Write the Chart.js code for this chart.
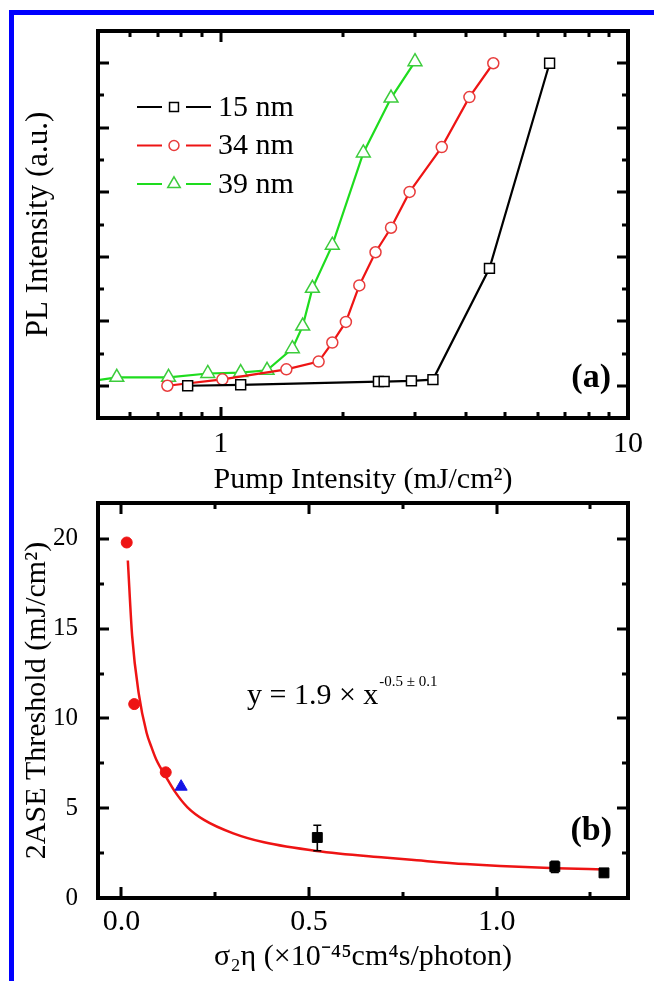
<!DOCTYPE html>
<html>
<head>
<meta charset="utf-8">
<script src="https://cdn.jsdelivr.net/npm/chart.js@4.4.1/dist/chart.umd.min.js"></script>
<style>
html,body{margin:0;padding:0;background:#fff;}
body{width:654px;height:981px;position:relative;overflow:hidden;}
#frame{position:absolute;left:9px;top:10px;width:700px;height:1000px;border-top:5px solid #0000ff;border-left:5px solid #0000ff;}
canvas{position:absolute;left:0;}
#ca{top:0;}
#cb{top:490px;}
</style>
</head>
<body>
<div id="frame"></div>
<canvas id="ca" width="654" height="500"></canvas>
<canvas id="cb" width="654" height="491"></canvas>
<script>
// ---------------- Panel (a) data ----------------
const seriesNamesA = ['15 nm', '34 nm', '39 nm'];
const pump15 = [0.83, 1.12, 2.44, 2.52, 2.94, 3.32, 4.57, 6.42];
const pl15   = [0.0, 0.03, 0.13, 0.13, 0.15, 0.19, 3.64, 10.0];
const pump34 = [0.74, 1.01, 1.45, 1.74, 1.88, 2.03, 2.19, 2.40, 2.62, 2.91, 3.49, 4.08, 4.67];
const pl34   = [0.0, 0.20, 0.51, 0.75, 1.34, 1.98, 3.11, 4.14, 4.90, 6.01, 7.40, 8.95, 10.0];
const pump39 = [0.45, 0.556, 0.745, 0.93, 1.12, 1.30, 1.50, 1.59, 1.68, 1.88, 2.24, 2.62, 3.0];
const pl39   = [0.09, 0.26, 0.26, 0.38, 0.41, 0.48, 1.15, 1.85, 3.02, 4.36, 7.22, 8.92, 10.05];
const pumpTickLabels = [1, 10];
const pumpMinorTicks = [0.6, 0.7, 0.8, 0.9, 2, 3, 4, 5, 6, 7, 8, 9];
const plMajorTicks = [0, 2, 4, 6, 8, 10];
const plMinorTicks = [1, 3, 5, 7, 9];
const panelLabelA = '(a)';

// ---------------- Panel (b) data ----------------
const fitX = [0.017, 0.0285, 0.046, 0.067, 0.08, 0.093, 0.12, 0.142, 0.176, 0.22, 0.298, 0.38, 0.52, 0.70, 0.787, 0.917, 1.009, 1.159, 1.286];
const fitY = [18.8, 14.6, 11.4, 9.2, 8.4, 7.7, 6.7, 5.94, 5.05, 4.35, 3.6, 3.1, 2.62, 2.25, 2.10, 1.89, 1.78, 1.66, 1.59];
const redX = [0.014, 0.034, 0.118];
const redY = [19.8, 10.8, 7.0];
const blueX = [0.159];
const blueY = [6.2];
const blackX = [0.522, 1.155, 1.286];
const blackY = [3.37, 1.74, 1.40];
const blackErrLow  = [2.63, 1.42, 1.20];
const blackErrHigh = [4.05, 2.05, 1.62];
const sigmaTickLabels = [0, 0.5, 1.0];
const sigmaMinorTicks = [0.25, 0.75, 1.25];
const thrTickLabels = [0, 5, 10, 15, 20];
const thrMinorTicks = [2.5, 7.5, 12.5, 17.5];
const fitEquation = 'y = 1.9 \u00d7 x';
const fitExponent = '-0.5 \u00b1 0.1';
const panelLabelB = '(b)';

// ---------------- helpers ----------------
const FONT = "'Liberation Serif', 'Times New Roman', serif";
Chart.defaults.font.family = FONT;
Chart.defaults.color = '#000';

const pts = (xs, ys) => xs.map((x, i) => ({x: x, y: ys[i]}));

function drawMarker(ctx, style, x, y, r, fill, stroke, lw) {
  ctx.save();
  ctx.beginPath();
  if (style === 'circle') ctx.arc(x, y, r, 0, Math.PI * 2);
  else if (style === 'rect') { const s = r * Math.SQRT1_2; ctx.rect(x - s, y - s, 2 * s, 2 * s); }
  else if (style === 'triangle') {
    let a = 0;
    for (let k = 0; k < 3; k++) {
      const px = x + Math.sin(a) * r, py = y - Math.cos(a) * r;
      if (k) ctx.lineTo(px, py); else ctx.moveTo(px, py);
      a += 2 * Math.PI / 3;
    }
    ctx.closePath();
  }
  if (fill) { ctx.fillStyle = fill; ctx.fill(); }
  if (stroke && lw) { ctx.strokeStyle = stroke; ctx.lineWidth = lw; ctx.stroke(); }
  ctx.restore();
}

function framePlugin(t) {
  return {
    id: 'frameTicks',
    afterDraw(chart) {
      const {ctx, chartArea: a} = chart;
      const sx = chart.scales.x, sy = chart.scales.y;
      ctx.save();
      ctx.strokeStyle = '#000';
      ctx.lineWidth = 3;
      const vt = (vals, len) => vals.forEach(v => {
        const p = Math.round(sx.getPixelForValue(v));
        ctx.beginPath();
        ctx.moveTo(p, a.top); ctx.lineTo(p, a.top + len);
        ctx.moveTo(p, a.bottom); ctx.lineTo(p, a.bottom - len);
        ctx.stroke();
      });
      const ht = (vals, len) => vals.forEach(v => {
        const p = Math.round(sy.getPixelForValue(v));
        ctx.beginPath();
        ctx.moveTo(a.left, p); ctx.lineTo(a.left + len, p);
        ctx.moveTo(a.right, p); ctx.lineTo(a.right - len, p);
        ctx.stroke();
      });
      vt(t.xMajor, 11); vt(t.xMinor, 6);
      ht(t.yMajor, 11); ht(t.yMinor, 6);
      ctx.lineWidth = 4;
      ctx.strokeRect(a.left, a.top, a.right - a.left, a.bottom - a.top);
      ctx.restore();
    }
  };
}

function panelLabelPlugin(text, x, y) {
  return {
    id: 'panelLabel',
    afterDraw(chart) {
      const ctx = chart.ctx;
      ctx.save();
      ctx.font = 'bold 34px ' + FONT;
      ctx.fillStyle = '#000';
      ctx.textAlign = 'right';
      ctx.textBaseline = 'middle';
      ctx.fillText(text, x, y);
      ctx.restore();
    }
  };
}

const legendPluginA = {
  id: 'innerLegend',
  afterDraw(chart) {
    const ctx = chart.ctx;
    const x0 = 137, y0 = 107, dy = 38.5;
    chart.data.datasets.forEach((d, i) => {
      const y = y0 + i * dy;
      ctx.save();
      ctx.strokeStyle = d.borderColor;
      ctx.lineWidth = d.borderWidth;
      ctx.beginPath();
      ctx.moveTo(x0, y); ctx.lineTo(x0 + 25, y);
      ctx.moveTo(x0 + 49, y); ctx.lineTo(x0 + 74, y);
      ctx.stroke();
      drawMarker(ctx, d.pointStyle, x0 + 37, y, d.pointRadius * 0.9, '#fff', d.pointBorderColor, d.pointBorderWidth);
      ctx.font = '30px ' + FONT;
      ctx.fillStyle = '#000';
      ctx.textAlign = 'left';
      ctx.textBaseline = 'middle';
      ctx.fillText(d.label, x0 + 81, y + 1);
      ctx.restore();
    });
  }
};

const noVerticalPadding = s => { s.paddingTop = 0; s.paddingBottom = 0; };

// ---------------- Chart (a) ----------------
function lineSet(label, xs, ys, lineColor, markColor, style, r) {
  return {
    label: label, data: pts(xs, ys), showLine: true,
    borderColor: lineColor, borderWidth: 2.2, tension: 0,
    pointStyle: style, pointRadius: r, pointHoverRadius: r,
    pointBorderColor: markColor, pointBackgroundColor: '#fff', pointBorderWidth: 1.5,
    clip: 0
  };
}

new Chart(document.getElementById('ca'), {
  type: 'scatter',
  data: {
    datasets: [
      lineSet(seriesNamesA[0], pump15, pl15, '#000000', '#000000', 'rect', 7),
      lineSet(seriesNamesA[1], pump34, pl34, '#ee1414', '#e83c3c', 'circle', 5.5),
      lineSet(seriesNamesA[2], pump39, pl39, '#1edc1e', '#3ccc3c', 'triangle', 8)
    ]
  },
  options: {
    responsive: false, animation: false, events: [],
    layout: {padding: {left: 0, right: 26, top: 31, bottom: 0}},
    plugins: {legend: {display: false}, tooltip: {enabled: false}},
    scales: {
      x: {
        type: 'logarithmic', min: 0.5, max: 10,
        afterBuildTicks: s => { s.ticks = pumpTickLabels.map(v => ({value: v})); },
        afterFit: s => { s.height = 82; },
        grid: {display: false, drawTicks: false},
        border: {display: false},
        ticks: {font: {size: 30}, padding: 8, maxRotation: 0, autoSkip: false,
                callback: v => String(v)},
        title: {display: true, text: 'Pump Intensity (mJ/cm\u00b2)', font: {size: 30},
                padding: {top: 0, bottom: 2}}
      },
      y: {
        type: 'linear', min: -1, max: 11,
        afterFit: s => { s.width = 98; noVerticalPadding(s); },
        grid: {display: false, drawTicks: false},
        border: {display: false},
        ticks: {display: false},
        title: {display: true, text: 'PL Intensity (a.u.)', font: {size: 31},
                padding: {top: 20, bottom: 0}}
      }
    }
  },
  plugins: [
    framePlugin({xMajor: pumpTickLabels, xMinor: pumpMinorTicks, yMajor: plMajorTicks, yMinor: plMinorTicks}),
    legendPluginA,
    panelLabelPlugin(panelLabelA, 611, 378)
  ]
});

// ---------------- Chart (b) ----------------
const errorBarPlugin = {
  id: 'errorBars',
  afterDatasetsDraw(chart) {
    const ctx = chart.ctx, sx = chart.scales.x, sy = chart.scales.y;
    ctx.save();
    ctx.strokeStyle = '#000';
    ctx.lineWidth = 1.6;
    blackX.forEach((x, i) => {
      const px = sx.getPixelForValue(x);
      const lo = sy.getPixelForValue(blackErrLow[i]);
      const hi = sy.getPixelForValue(blackErrHigh[i]);
      ctx.beginPath();
      ctx.moveTo(px, lo); ctx.lineTo(px, hi);
      ctx.moveTo(px - 4, lo); ctx.lineTo(px + 4, lo);
      ctx.moveTo(px - 4, hi); ctx.lineTo(px + 4, hi);
      ctx.stroke();
    });
    ctx.restore();
  }
};

const equationPlugin = {
  id: 'equation',
  afterDraw(chart) {
    const ctx = chart.ctx;
    ctx.save();
    ctx.fillStyle = '#000';
    ctx.textAlign = 'left';
    ctx.textBaseline = 'alphabetic';
    ctx.font = '30px ' + FONT;
    const x0 = 247, base = 214;
    ctx.fillText(fitEquation, x0, base);
    const w = ctx.measureText(fitEquation).width;
    ctx.font = '15px ' + FONT;
    ctx.fillText(fitExponent, x0 + w + 1, base - 18);
    ctx.restore();
  }
};

new Chart(document.getElementById('cb'), {
  type: 'scatter',
  data: {
    datasets: [
      {label: 'blue', data: pts(blueX, blueY), pointStyle: 'triangle', pointRadius: 7,
       pointBackgroundColor: '#1414e6', pointBorderColor: '#1414e6', pointBorderWidth: 1},
      {label: 'black', data: pts(blackX, blackY), pointStyle: 'rect', pointRadius: 7,
       pointBackgroundColor: '#000', pointBorderColor: '#000', pointBorderWidth: 1},
      {label: 'red', data: pts(redX, redY), pointStyle: 'circle', pointRadius: 5.5,
       pointBackgroundColor: '#ee1414', pointBorderColor: '#ee1414', pointBorderWidth: 1},
      {label: 'fit', data: pts(fitX, fitY), showLine: true, borderColor: '#ee1414', borderWidth: 2.5,
       pointRadius: 0, cubicInterpolationMode: 'monotone'}
    ]
  },
  options: {
    responsive: false, animation: false, events: [],
    layout: {padding: {left: 0, right: 26, top: 13, bottom: 0}},
    plugins: {legend: {display: false}, tooltip: {enabled: false}},
    scales: {
      x: {
        type: 'linear', min: -0.0625, max: 1.35,
        afterBuildTicks: s => { s.ticks = sigmaTickLabels.map(v => ({value: v})); },
        afterFit: s => { s.height = 83; },
        grid: {display: false, drawTicks: false},
        border: {display: false},
        ticks: {font: {size: 30}, padding: 6, maxRotation: 0, autoSkip: false,
                callback: v => Number(v).toFixed(1)},
        title: {display: true, text: '\u03c3\u2082\u03b7 (\u00d710\u207b\u2074\u2075cm\u2074s/photon)', font: {size: 30},
                padding: {top: 0, bottom: 6}}
      },
      y: {
        type: 'linear', min: 0, max: 22,
        afterBuildTicks: s => { s.ticks = thrTickLabels.map(v => ({value: v})); },
        afterFit: s => { s.width = 98; noVerticalPadding(s); },
        grid: {display: false, drawTicks: false},
        border: {display: false},
        ticks: {font: {size: 25}, padding: 20, autoSkip: false, callback: v => String(v)},
        title: {display: true, text: '2ASE Threshold (mJ/cm\u00b2)', font: {size: 30},
                padding: {top: 19, bottom: 0}}
      }
    }
  },
  plugins: [
    errorBarPlugin,
    framePlugin({xMajor: sigmaTickLabels, xMinor: sigmaMinorTicks, yMajor: thrTickLabels, yMinor: thrMinorTicks}),
    equationPlugin,
    panelLabelPlugin(panelLabelB, 612, 341)
  ]
});
</script>
</body>
</html>
